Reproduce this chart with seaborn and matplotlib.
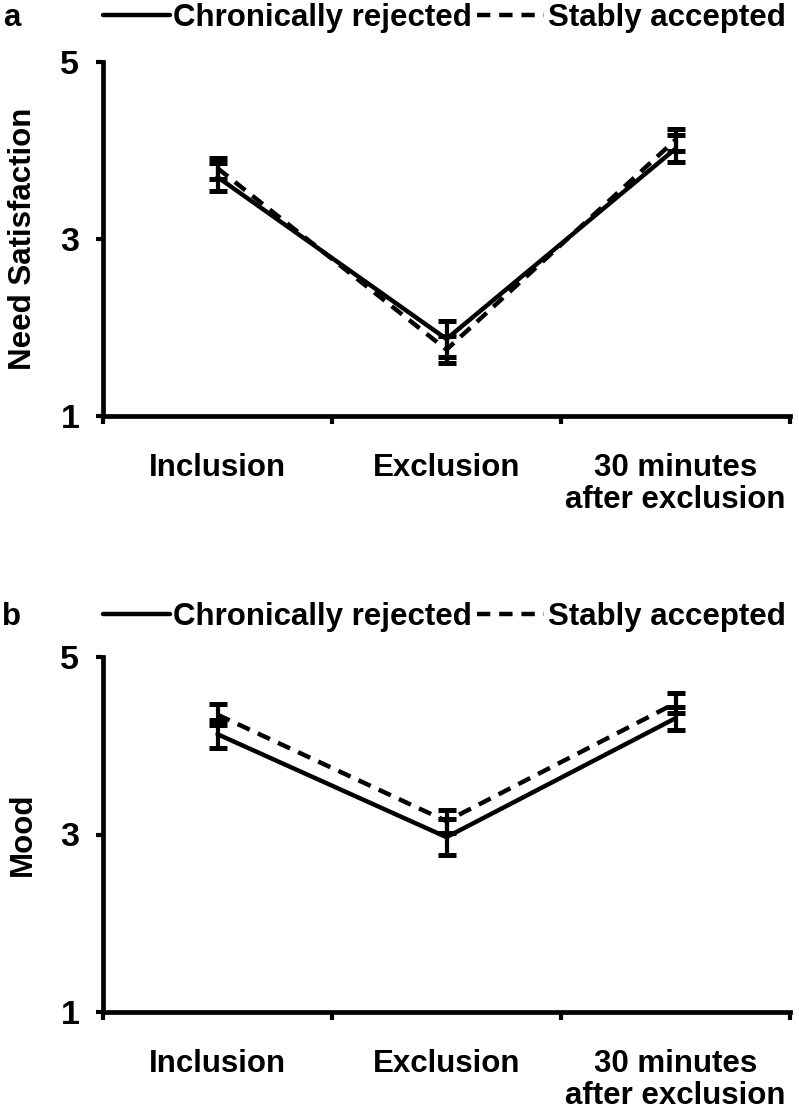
import numpy as np
import pandas as pd
import matplotlib
matplotlib.use("Agg")
import matplotlib.pyplot as plt
from matplotlib.lines import Line2D
import seaborn as sns

# ---- data ----
categories = ["Inclusion", "Exclusion", "30 minutes\nafter exclusion"]
groups = ["Chronically rejected", "Stably accepted"]

need_rejected = [3.70, 1.87, 4.02]
need_rejected_err = [0.16, 0.20, 0.15]
need_accepted = [3.80, 1.75, 4.12]
need_accepted_err = [0.12, 0.15, 0.12]

mood_rejected = [4.13, 2.97, 4.31]
mood_rejected_err = [0.16, 0.20, 0.13]
mood_accepted = [4.35, 3.15, 4.48]
mood_accepted_err = [0.12, 0.13, 0.11]

y_ticks = [1, 3, 5]

sns.set_theme(style="white")
FONT = ["Liberation Sans", "DejaVu Sans"]
plt.rcParams["font.family"] = FONT
plt.rcParams["font.weight"] = "bold"
for k in ["text.color", "axes.labelcolor", "xtick.color", "ytick.color",
          "axes.edgecolor"]:
    plt.rcParams[k] = "black"
FS = 22.5

W, H = 799, 1116
fig = plt.figure(figsize=(W / 100, H / 100), dpi=100)
fig.patch.set_facecolor("white")

LW = 3.2
DASH = (3, 2)


def panel(ax, rej, rej_err, acc, acc_err, ylabel):
    df = pd.DataFrame({
        "pos": list(range(len(categories))) * 2,
        "value": list(rej) + list(acc),
        "err": list(rej_err) + list(acc_err),
        "group": [groups[0]] * len(categories) + [groups[1]] * len(categories),
    })
    sns.lineplot(data=df, x="pos", y="value", style="group",
                 dashes={groups[0]: "", groups[1]: DASH},
                 color="black", linewidth=LW, errorbar=None, sort=False,
                 legend=False, ax=ax)
    for g in groups:
        sub = df[df["group"] == g]
        ax.errorbar(sub["pos"], sub["value"], yerr=sub["err"], fmt="none",
                    ecolor="black", elinewidth=3.0, capsize=6.5, capthick=3.6)
    ax.set_xlim(-0.5, len(categories) - 0.5)
    ax.set_ylim(1, 5)
    ax.set_yticks(y_ticks)
    ax.set_yticklabels([str(t) for t in y_ticks], fontsize=FS + 2,
                       fontweight="bold", color="black")
    ax.set_xticks(range(len(categories)))
    ax.set_xticklabels(categories, fontsize=FS, fontweight="bold",
                       linespacing=1.05, color="black")
    ax.set_xticks(np.arange(-0.5, len(categories), 1.0), minor=True)
    ax.tick_params(axis="x", which="major", length=0, pad=27)
    ax.tick_params(axis="x", which="minor", length=6, width=3.0, direction="out",
                   bottom=True, color="black")
    ax.tick_params(axis="y", which="major", length=5, width=3.0, direction="out",
                   left=True, pad=12, color="black")
    for s in ["top", "right"]:
        ax.spines[s].set_visible(False)
    for s in ["left", "bottom"]:
        ax.spines[s].set_color("black")
        ax.spines[s].set_linewidth(3.4)
    ax.set_xlabel("")
    ax.set_ylabel(ylabel, fontsize=FS, fontweight="bold", color="black")
    ax.yaxis.set_label_coords(-0.095, 0.5)
    ax.set_facecolor("white")


ax_a = fig.add_axes([103 / W, 1 - 416 / H, 687 / W, 354 / H])
panel(ax_a, need_rejected, need_rejected_err, need_accepted, need_accepted_err,
      "Need Satisfaction")
ax_b = fig.add_axes([103 / W, 1 - 1012 / H, 687 / W, 355 / H])
panel(ax_b, mood_rejected, mood_rejected_err, mood_accepted, mood_accepted_err,
      "Mood")

handles = [Line2D([], [], color="black", lw=LW),
           Line2D([], [], color="black", lw=LW, dashes=DASH)]
for letter, ytop in [("a", 18), ("b", 617)]:
    fig.text(12 / W, 1 - ytop / H, letter, ha="center", va="center",
             fontsize=FS, fontweight="bold", color="black")
    leg = fig.legend(handles, groups, loc="center left",
                     bbox_to_anchor=(103 / W, 1 - ytop / H), ncol=2, frameon=False,
                     handlelength=2.15, handletextpad=0.1, columnspacing=0.16,
                     borderpad=0, borderaxespad=0,
                     prop={"family": FONT, "weight": "bold", "size": FS})
    for t in leg.get_texts():
        t.set_color("black")

fig.savefig("out.png", dpi=100, facecolor="white")
